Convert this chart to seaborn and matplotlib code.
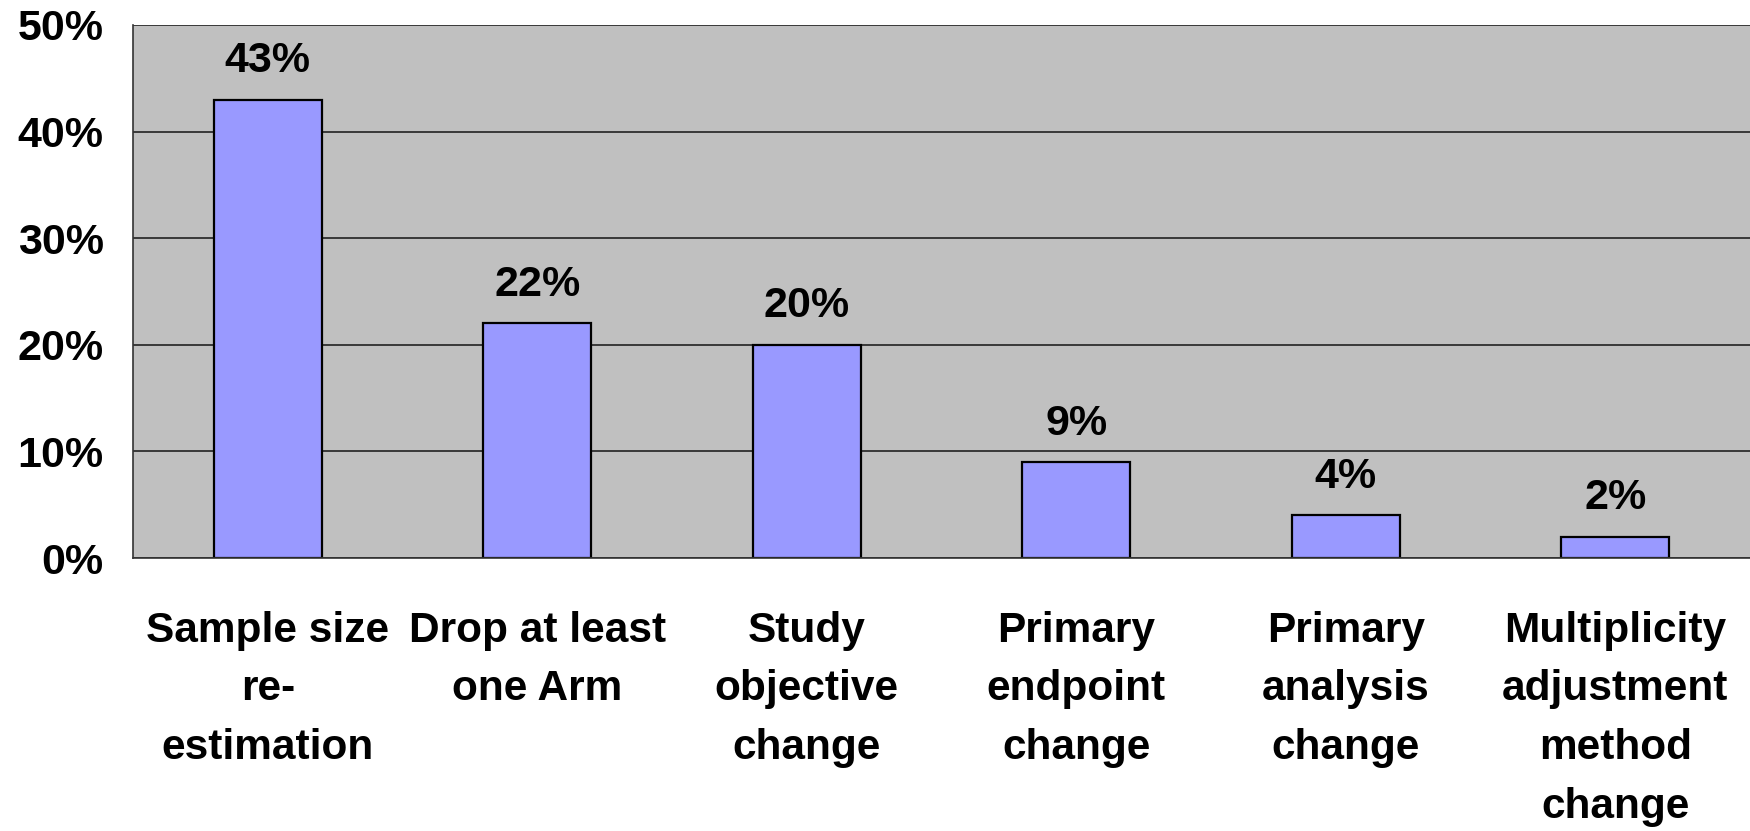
import matplotlib
matplotlib.use("Agg")
import matplotlib.pyplot as plt
import seaborn as sns
import pandas as pd
import numpy as np
from matplotlib.ticker import FixedLocator, PercentFormatter

# data
categories = [
    "Sample size\nre-\nestimation",
    "Drop at least\none Arm",
    "Study\nobjective\nchange",
    "Primary\nendpoint\nchange",
    "Primary\nanalysis\nchange",
    "Multiplicity\nadjustment\nmethod\nchange",
]
percent = [43, 22, 20, 9, 4, 2]
y_ticks = [0, 10, 20, 30, 40, 50]

df = pd.DataFrame({"category": categories, "percent": percent})

sns.set_style("white")
plt.rcParams["font.family"] = ["Liberation Sans", "DejaVu Sans"]
plt.rcParams["font.weight"] = "bold"
plt.rcParams["text.color"] = "black"
plt.rcParams["xtick.labelcolor"] = "black"
plt.rcParams["ytick.labelcolor"] = "black"

fig = plt.figure(figsize=(17.5, 8.31), dpi=100)
ax = fig.add_axes([0.076, 0.3285, 0.924, 0.6415])
ax.set_facecolor("#C0C0C0")

sns.barplot(data=df, x="category", y="percent", color="#9999FF",
            width=0.4, edgecolor="black", linewidth=1.6, saturation=1, ax=ax)

ax.set_ylim(0, 50)
ax.set_xlim(-0.5, len(categories) - 0.5)
ax.yaxis.set_major_locator(FixedLocator(y_ticks))
ax.yaxis.set_major_formatter(PercentFormatter(decimals=0))
ax.grid(axis="y", color="#222222", linewidth=1.2)
ax.set_axisbelow(True)

# value labels above bars
for i, v in enumerate(percent):
    ax.text(i, v + 3.6, f"{v}%", ha="center", va="center",
            fontsize=31, fontweight="bold", color="black")

# tick styling
ax.tick_params(axis="y", labelsize=31, length=11, width=1.2, color="#333333",
               pad=10, labelcolor="black")
ax.tick_params(axis="x", which="major", length=0, labelsize=30.5, pad=38,
               labelcolor="black")
ax.set_xticks(np.arange(-0.5, len(categories) + 0.5, 1), minor=True)
ax.tick_params(axis="x", which="minor", length=11, width=1.2, color="#333333")
for lbl in ax.get_xticklabels():
    lbl.set_linespacing(1.6)
    lbl.set_fontweight("bold")
for lbl in ax.get_yticklabels():
    lbl.set_fontweight("bold")

ax.set_xlabel("")
ax.set_ylabel("")
for side in ["top", "right"]:
    ax.spines[side].set_visible(False)
for side in ["left", "bottom"]:
    ax.spines[side].set_color("#333333")
    ax.spines[side].set_linewidth(1.2)

fig.savefig("out.png", dpi=100)
